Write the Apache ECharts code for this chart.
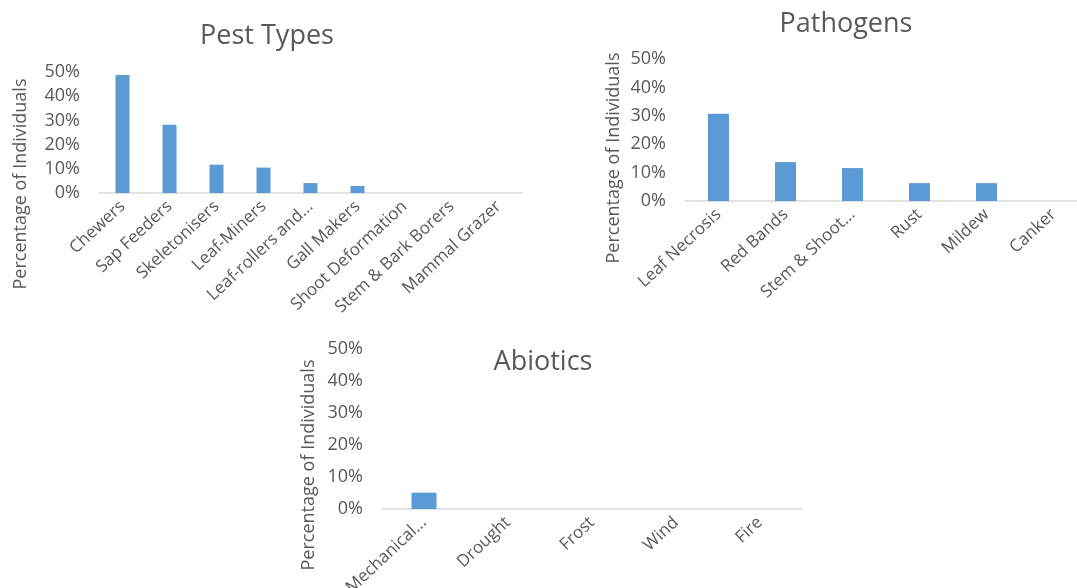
<!DOCTYPE html>
<html>
<head>
<meta charset="utf-8">
<script src="https://cdn.jsdelivr.net/npm/echarts@6/dist/echarts.min.js"></script>
<style>
  html, body { margin: 0; padding: 0; background: #ffffff; }
  #chart { width: 1077px; height: 588px; }
</style>
</head>
<body>
<div id="chart"></div>
<script>
// Share of individuals affected, by damage category
const pestCategories = ['Chewers', 'Sap Feeders', 'Skeletonisers', 'Leaf-Miners', 'Leaf-rollers and...', 'Gall Makers', 'Shoot Deformation', 'Stem & Bark Borers', 'Mammal Grazer'];
const pestValues = [0.488, 0.282, 0.117, 0.105, 0.041, 0.029, 0, 0, 0];

const pathogenCategories = ['Leaf Necrosis', 'Red Bands', 'Stem & Shoot...', 'Rust', 'Mildew', 'Canker'];
const pathogenValues = [0.307, 0.137, 0.116, 0.063, 0.063, 0];

const abioticCategories = ['Mechanical...', 'Drought', 'Frost', 'Wind', 'Fire'];
const abioticValues = [0.051, 0, 0, 0, 0];

const yTicks = { min: 0, max: 0.5, interval: 0.1 };
const panelTitles = ['Pest Types', 'Pathogens', 'Abiotics'];
const yAxisTitle = 'Percentage of Individuals';

const FONT = '"Open Sans", sans-serif';
const TEXT = '#595959';
const BAR = '#5b9bd5';

// fixed plot rectangles; labels may run past the canvas edge
const grids = [
  { left: 99, top: 72, width: 423, height: 121 },
  { left: 685, top: 59, width: 402, height: 142 },
  { left: 382, top: 349, width: 420, height: 160 }
].map(g => Object.assign({ containLabel: false, outerBoundsMode: 'none' }, g));

const categorySets = [pestCategories, pathogenCategories, abioticCategories];
const valueSets = [pestValues, pathogenValues, abioticValues];
const barWidths = [14, 21, 25];

const xAxes = categorySets.map((cats, i) => ({
  type: 'category',
  gridIndex: i,
  data: cats,
  axisLine: { lineStyle: { color: '#d9d9d9', width: 1.5 } },
  axisTick: { show: false },
  axisLabel: {
    interval: 0, rotate: 43, margin: 11,
    color: TEXT, fontFamily: FONT, fontSize: 17
  }
}));

const yAxes = categorySets.map((_, i) => ({
  type: 'value',
  gridIndex: i,
  min: yTicks.min, max: yTicks.max, interval: yTicks.interval,
  axisLine: { show: false },
  axisTick: { show: false },
  splitLine: { show: false },
  axisLabel: {
    margin: 19, color: TEXT, fontFamily: FONT, fontSize: 18,
    formatter: v => Math.round(v * 100) + '%'
  }
}));

const series = valueSets.map((vals, i) => ({
  type: 'bar',
  xAxisIndex: i,
  yAxisIndex: i,
  data: vals,
  barWidth: barWidths[i],
  itemStyle: { color: BAR },
  silent: true
}));

const titlePos = [[262, 31], [841, 19], [538, 357]];
const title = panelTitles.map((t, i) => ({
  text: t,
  left: titlePos[i][0],
  top: titlePos[i][1],
  textAlign: 'center',
  textVerticalAlign: 'middle',
  textStyle: { color: TEXT, fontFamily: FONT, fontSize: 27, fontWeight: 'normal' }
}));

// rotated axis titles
const yTitlePos = [[21, 184], [614, 158], [309, 465]];
const graphic = yTitlePos.map(p => ({
  type: 'text',
  x: p[0], y: p[1],
  rotation: Math.PI / 2,
  style: {
    text: yAxisTitle, fill: TEXT, font: '18px ' + FONT,
    textAlign: 'center', textVerticalAlign: 'middle'
  }
}));

const chart = echarts.init(document.getElementById('chart'), null, { renderer: 'canvas' });
chart.setOption({
  animation: false,
  backgroundColor: '#ffffff',
  title,
  grid: grids,
  xAxis: xAxes,
  yAxis: yAxes,
  series,
  graphic
});
</script>
</body>
</html>
